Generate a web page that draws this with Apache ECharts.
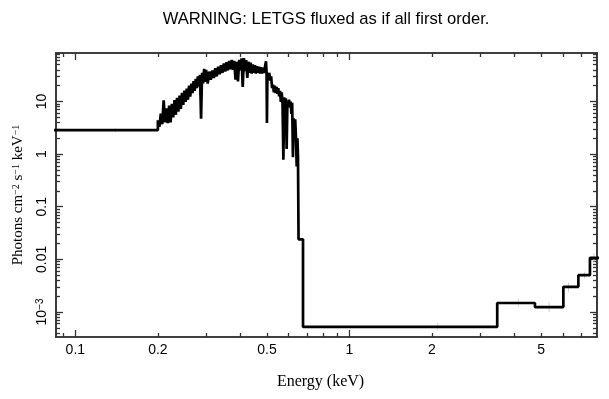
<!DOCTYPE html>
<html>
<head>
<meta charset="utf-8">
<script src="https://cdn.jsdelivr.net/npm/echarts@6/dist/echarts.min.js"></script>
<style>html,body{margin:0;padding:0;background:#fff}#c{width:609px;height:399px}</style>
</head>
<body>
<div id="c"></div>
<script>
// ---- data (energy = bin lower edge, keV; flux = photons cm^-2 s^-1 keV^-1)
const energy = [0.07,
 0.2000,0.2025,0.2050,0.2075,0.2100,0.2125,0.2150,0.2175,0.2200,0.2225,0.2250,0.2275,0.2300,0.2325,0.2350,0.2375,0.2400,0.2425,0.2450,0.2475,
 0.2500,0.2525,0.2550,0.2575,0.2600,0.2625,0.2650,0.2675,0.2700,0.2725,0.2750,0.2775,0.2800,0.2825,0.2850,0.2875,0.2900,0.2925,0.2950,0.2975,
 0.300,0.304,0.308,0.312,0.316,0.320,0.324,0.328,0.332,0.336,0.340,0.344,0.348,0.352,0.356,0.360,0.364,0.368,0.372,0.376,
 0.380,0.384,0.388,0.392,0.396,0.400,0.404,0.408,0.412,0.416,0.420,0.424,0.428,0.432,0.436,0.440,0.444,0.448,0.452,0.456,
 0.460,0.464,0.468,0.472,0.476,0.480,0.484,0.488,0.492,0.496,
 0.4985,0.500,0.502,0.506,0.510,0.514,0.518,0.522,0.526,0.530,0.534,0.538,0.542,0.546,0.550,0.554,0.558,0.562,0.566,0.570,
 0.574,0.578,0.582,0.586,0.590,0.594,0.598,0.602,0.606,0.610,0.614,0.618,0.622,0.626,0.630,0.634,0.638,0.642,0.646,0.649,
 0.652,0.677,3.46,4.75,6.03,6.84,7.54,8.2];
const flux = [2.85,
 4.4,3.3,5.9,3.7,10.5,4.0,7.4,3.9,8.4,4.0,9.0,5.0,10.6,5.6,11.8,6.4,13.0,7.2,14.6,8.6,
 16.2,9.8,17.6,10.8,20.0,12.4,22.0,14.5,24.5,16.0,27.0,18.0,30.0,19.5,32.0,4.7,35.0,22.0,42.0,23.5,
 40,22,37,26,39,28,43,30,46,33,49,35,53,37,56,39,59,41,62,40,
 59,26,57,24,62,39,66,19,67,38,61,28,57,35,55,34,51,35,49,34,
 47,35,46,34,45,34,44,35,46,58,
 35,3.9,34,30,35,25,30,18,21,15,20,14.5,19,14,18,12.5,16,9.8,15,9.2,
 0.78,12,7.0,11.5,1.25,10.5,8.0,10.8,7.8,10.0,5.8,9.5,0.87,4.8,2.5,4.6,2.1,0.58,2.0,0.9,
 0.024,5.2e-4,1.48e-3,1.24e-3,3.0e-3,5.0e-3,0.0107,0.0107];

// faint error bars (bin centre, low, high)
const errEnergy = [0.14, 2.1, 4.13, 5.35, 6.3, 7.2, 7.8];
const errLow    = [2.6, 4.4e-4, 1.25e-3, 1.0e-3, 2.4e-3, 4.3e-3, 8.95e-3];
const errHigh   = [3.1, 6.2e-4, 1.8e-3, 1.55e-3, 3.6e-3, 5.8e-3, 0.0131];

// axes
const xRange = [0.085, 8.0];
const yRange = [3.34e-4, 83.6];
const xTickValues = [0.1, 0.2, 0.5, 1, 2, 5];
const xTickLabels = ['0.1', '0.2', '0.5', '1', '2', '5'];
const xMajorTicks = [0.1, 1];
const xMinorTicks = [0.09, 0.2, 0.3, 0.4, 0.5, 0.6, 0.7, 0.8, 0.9, 2, 3, 4, 5, 6, 7];
const yTickValues = [10, 1, 0.1, 0.01, 0.001];
const yTickLabels = ['10', '1', '0.1', '0.01', '10{sup|−3}'];
const yMajorTicks = [10, 1, 0.1, 0.01, 0.001];
const yMinorTicks = [4e-4,5e-4,6e-4,7e-4,8e-4,9e-4, 2e-3,3e-3,4e-3,5e-3,6e-3,7e-3,8e-3,9e-3,
  0.02,0.03,0.04,0.05,0.06,0.07,0.08,0.09, 0.2,0.3,0.4,0.5,0.6,0.7,0.8,0.9, 2,3,4,5,6,7,8,9, 20,30,40,50,60,70,80];

const titleText = 'WARNING: LETGS fluxed as if all first order.';
const xTitle = 'Energy (keV)';
const yTitle = 'Photons cm{s|−2} s{s|−1} keV{s|−1}';

// ---- chart
const L = Math.log10;
const frame = '#333';
const sans = "'Liberation Sans', Arial, sans-serif";
const serif = "'Liberation Serif', 'Times New Roman', serif";

function pickLabel(vals, labels) {
  return function (v) {
    for (let i = 0; i < vals.length; i++) if (Math.abs(L(vals[i]) - v) < 1e-6) return labels[i];
    return '';
  };
}

function axis(kind, pos, ticks, len, labelOpt, nameOpt) {
  const range = kind === 'x' ? xRange : yRange;
  const a = {
    type: 'value', position: pos, offset: 0,
    min: L(range[0]), max: L(range[1]),
    axisLine: { show: true, onZero: false, lineStyle: { color: frame, width: 1.6 } },
    axisTick: { show: true, inside: true, length: len, customValues: ticks.map(L),
                lineStyle: { color: frame, width: 1.3 } },
    axisLabel: labelOpt || { show: false },
    splitLine: { show: false }
  };
  if (nameOpt) Object.assign(a, nameOpt);
  return a;
}

const xLabel = {
  show: true, customValues: xTickValues.map(L), margin: 6,
  formatter: pickLabel(xTickValues, xTickLabels),
  color: '#000', fontFamily: sans, fontSize: 14
};
const yLabel = {
  show: true, customValues: yTickValues.map(L), margin: 7, rotate: 90,
  formatter: pickLabel(yTickValues, yTickLabels),
  color: '#000', fontFamily: sans, fontSize: 14,
  rich: { sup: { fontFamily: sans, fontSize: 10, verticalAlign: 'top', color: '#000' } }
};

const chart = echarts.init(document.getElementById('c'), null, { renderer: 'canvas' });
chart.setOption({
  animation: false,
  backgroundColor: '#fff',
  grid: { left: 56, right: 12, top: 53, bottom: 62, containLabel: false },
  graphic: [{
    type: 'text', x: 326, y: 19,
    style: { text: titleText, align: 'center', verticalAlign: 'middle',
             font: "16.6px 'Liberation Sans', Arial, sans-serif", fill: '#000' }
  }],
  xAxis: [
    axis('x', 'bottom', xMajorTicks, 7, xLabel, {
      name: xTitle, nameLocation: 'middle', nameGap: 37,
      nameTextStyle: { fontFamily: serif, fontSize: 16, color: '#000', padding: [0, 12, 0, 0] }
    }),
    axis('x', 'bottom', xMinorTicks, 4),
    axis('x', 'top', xMajorTicks, 7),
    axis('x', 'top', xMinorTicks, 4)
  ],
  yAxis: [
    axis('y', 'left', yMajorTicks, 7, yLabel, {
      name: yTitle, nameLocation: 'middle', nameGap: 30, nameRotate: 90,
      nameTextStyle: { fontFamily: serif, fontSize: 15, color: '#000',
        rich: { s: { fontFamily: serif, fontSize: 10, verticalAlign: 'top', color: '#000' } } }
    }),
    axis('y', 'left', yMinorTicks, 4),
    axis('y', 'right', yMajorTicks, 7),
    axis('y', 'right', yMinorTicks, 4)
  ],
  series: [
    {
      type: 'custom', xAxisIndex: 0, yAxisIndex: 0, z: 1, silent: true,
      data: errEnergy.map((e, i) => [L(e), L(errLow[i]), L(errHigh[i])]),
      renderItem: function (params, api) {
        const p1 = api.coord([api.value(0), api.value(1)]);
        const p2 = api.coord([api.value(0), api.value(2)]);
        return { type: 'line', shape: { x1: p1[0], y1: p1[1], x2: p2[0], y2: p2[1] },
                 style: { stroke: '#cfcfcf', lineWidth: 1 } };
      }
    },
    {
      type: 'line', xAxisIndex: 0, yAxisIndex: 0, z: 3, step: 'end',
      showSymbol: false, symbol: 'none', clip: true,
      lineStyle: { color: '#000', width: 2.7 },
      data: energy.map((e, i) => [L(e), L(flux[i])])
    }
  ]
});
</script>
</body>
</html>
